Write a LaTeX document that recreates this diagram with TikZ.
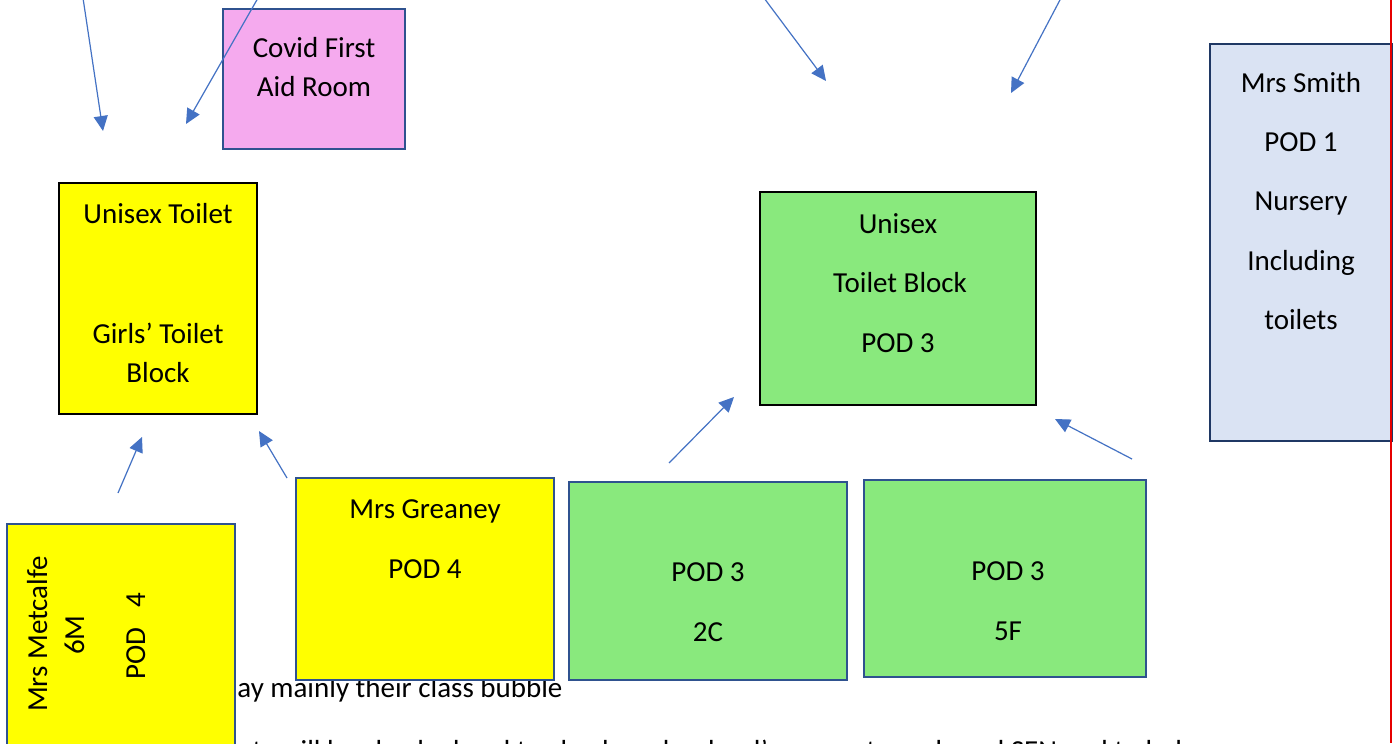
\documentclass[tikz,border=0pt]{standalone}
\usepackage{fontspec}
\setmainfont{Carlito}
\usepackage{xcolor}
\definecolor{roompink}{RGB}{245,170,238}
\definecolor{podyellow}{RGB}{255,255,0}
\definecolor{podgreen}{RGB}{137,233,125}
\definecolor{nurseryblue}{RGB}{218,227,243}
\definecolor{edgeblue}{RGB}{47,82,143}
\definecolor{edgenavy}{RGB}{31,56,100}
\definecolor{walkblue}{RGB}{68,114,196}
\definecolor{marginred}{RGB}{230,0,0}
\usepackage{tikz}
\usetikzlibrary{arrows.meta}

\begin{document}
\begin{tikzpicture}[x=0.5pt, y=-0.5pt,
    room/.style={draw=edgeblue, line width=1pt},
    block/.style={draw=black, line width=1.4pt},
    lbl/.style={anchor=base, inner sep=0pt},
    walk/.style={walkblue, line width=0.6pt, -{Triangle[length=7.5pt, width=7pt]}}]
    \fontsize{14.5}{17}\selectfont
    \clip (0,0) rectangle (1400,743);
    \fill[white] (0,0) rectangle (1400,743);
    % page text behind the boxes
    \node[anchor=base west, inner sep=0pt] (bubble) at (237,697) {ay mainly their class bubble};
    \node[anchor=base west, inner sep=0pt] (nextline) at (237,760) {nts will be checked and to check each school’s support needs and SEN and to help};
    % boxes
    \draw[room, fill=roompink] (223,9) rectangle (405,149);
    \draw[block, fill=podyellow] (59,183) rectangle (257,414);
    \draw[block, fill=podgreen] (760,192) rectangle (1036,405);
    \draw[draw=edgenavy, line width=1.4pt, fill=nurseryblue] (1210,44) rectangle (1392,441);
    \draw[room, fill=podyellow] (296,478) rectangle (554,680);
    \draw[room, fill=podgreen] (569,482) rectangle (847,680);
    \draw[room, fill=podgreen] (864,480) rectangle (1146,677);
    \draw[room, fill=podyellow] (7,524) rectangle (235,760);
    % labels
    \node[lbl] (covid1) at (314,58) {Covid First};
    \node[lbl] (covid2) at (314,97) {Aid Room};
    \node[lbl] (unisexA) at (158,223) {Unisex Toilet};
    \node[lbl] (girls1) at (158,343) {Girls’ Toilet};
    \node[lbl] (girls2) at (158,382) {Block};
    \node[lbl] (unisexB1) at (898,233) {Unisex};
    \node[lbl] (unisexB2) at (900,292) {Toilet Block};
    \node[lbl] (unisexB3) at (898,352) {POD 3};
    \foreach \t [count=\i] in {Mrs Smith, POD 1, Nursery, Including, toilets}
        \node[lbl] (smith\i) at (1301,34+59*\i) {\t};
    \node[lbl] (greaney1) at (425,518) {Mrs Greaney};
    \node[lbl] (greaney2) at (425,578) {POD 4};
    \node[lbl] (twoC1) at (708,581) {POD 3};
    \node[lbl] (twoC2) at (708,641) {2C};
    \node[lbl] (fiveF1) at (1008,580) {POD 3};
    \node[lbl] (fiveF2) at (1008,640) {5F};
    \node[lbl, rotate=90] (metcalfe1) at (47,634) {Mrs Metcalfe};
    \node[lbl, rotate=90] (metcalfe2) at (84,635) {6M};
    \node[lbl, rotate=90] (metcalfe3) at (145,636) {POD\ \ \ 4};
    % arrows
    \coordinate (from1) at (83,-2);    \coordinate (to1) at (103,131);
    \coordinate (from2) at (258,-2);   \coordinate (to2) at (186,124);
    \coordinate (from3) at (764,-2);   \coordinate (to3) at (826,81);
    \coordinate (from4) at (1061,-2);  \coordinate (to4) at (1011,93);
    \coordinate (from5) at (118,493);  \coordinate (to5) at (142,437);
    \coordinate (from6) at (287,478);  \coordinate (to6) at (259,431);
    \coordinate (from7) at (669,463);  \coordinate (to7) at (734,397);
    \coordinate (from8) at (1132,459); \coordinate (to8) at (1055,419);
    \foreach \n in {1,...,8} \draw[walk] (from\n) -- (to\n);
    % page margin
    \coordinate (margintop) at (1391,0);
    \coordinate (marginbot) at (1391,743);
    \draw[marginred, line width=1pt] (margintop) -- (marginbot);
\end{tikzpicture}
\end{document}
